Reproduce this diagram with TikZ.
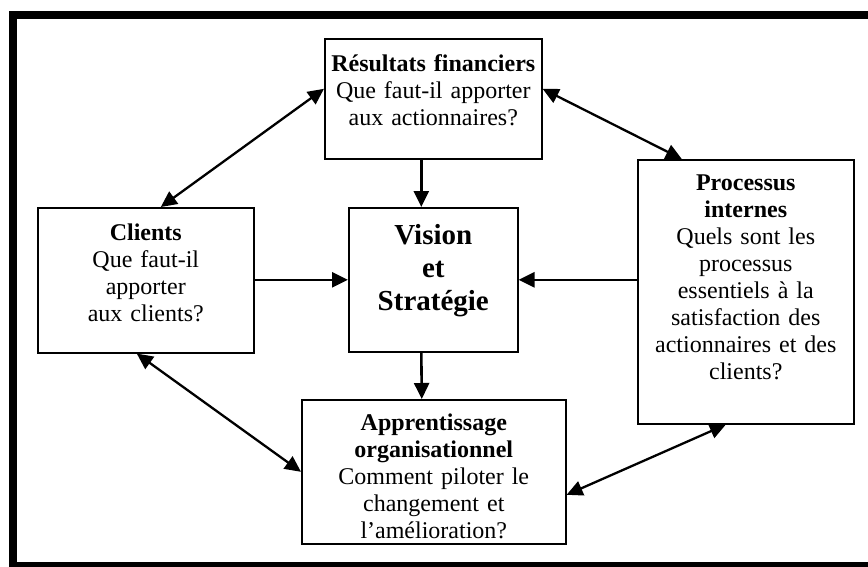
\documentclass[tikz,border=0pt]{standalone}
\usepackage{fontspec}
\setmainfont{Liberation Serif}
\usepackage{xcolor}
\usetikzlibrary{arrows.meta, positioning, calc}

\begin{document}
\begin{tikzpicture}[x=1pt, y=-1pt,
    bloc/.style={draw, line width=1.6pt, inner sep=0pt, anchor=north west, align=center,
      font={\fontsize{24}{27}\selectfont}},
    fleche/.style={-{Triangle[length=16pt, width=15pt]}, line width=2.6pt},
    double/.style={{Triangle[length=16pt, width=15pt]}-{Triangle[length=16pt, width=15pt]}, line width=2.3pt}]
  \useasboundingbox (0,0) rectangle (868,566);
  % thick frame, cut by the page on the right and at the bottom
  \draw[line width=8pt] (13,15) rectangle (900,566);

  \node[bloc, text width=217pt, text height=33pt, text depth=87pt] (res) at (324,38)
    {\textbf{Résultats financiers}\\Que faut-il apporter\\aux actionnaires?};
  \node[bloc, text width=216pt, text height=33pt, text depth=112pt] (cli) at (37,207)
    {\textbf{Clients}\\Que faut-il\\apporter\\aux clients?};
  \node[bloc, text width=169pt, text height=37pt, text depth=107pt,
    font={\fontsize{29}{33}\selectfont\bfseries}] (vis) at (348,207)
    {Vision\\et\\Stratégie};
  \node[bloc, text width=216pt, text height=31pt, text depth=233pt] (proc) at (637,159)
    {\textbf{Processus}\\\textbf{internes}\\Quels sont les\\processus\\essentiels à la\\satisfaction des\\actionnaires et des\\clients?};
  \node[bloc, text width=264pt, text height=31pt, text depth=113pt] (app) at (301,399)
    {\textbf{Apprentissage}\\\textbf{organisationnel}\\Comment piloter le\\changement et\\l’amélioration?};

  % towards the centre
  \draw[fleche] ($(res.south)+(-12,0)$) -- ($(vis.north)+(-12,0)$);
  \draw[fleche] ($(vis.south)+(-12,0)$) -- ($(app.north)+(-12,0)$);
  \draw[fleche] (vis.west -| cli.east) -- (vis.west);
  \draw[fleche] (vis.east -| proc.west) -- (vis.east);

  % round the outside
  \draw[double] ($(cli.north)+(15,0)$) -- ($(res.west)+(0,-10)$);
  \draw[double] ($(res.east)+(0,-10)$) -- ($(proc.north)+(-64,0)$);
  \draw[double] ($(cli.south)+(-9,0)$) -- (app.west);
  \draw[double] ($(proc.south)+(-20,0)$) -- ($(app.east)+(0,23)$);
\end{tikzpicture}
\end{document}
